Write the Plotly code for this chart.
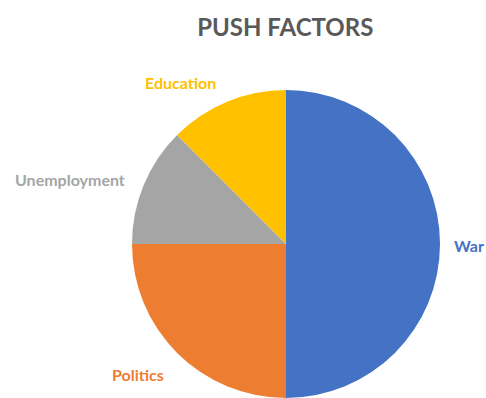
import plotly.graph_objects as go

# Push factors and their shares
factors = ["War", "Politics", "Unemployment", "Education"]
shares = [50, 25, 12.5, 12.5]
colors = ["#4472C4", "#ED7D31", "#A5A5A5", "#FFC000"]

# Label anchor points (paper coordinates)
label_x = [0.965, 0.284, 0.144, 0.372]
label_y = [0.382, 0.060, 0.548, 0.792]

W, H = 486, 398

fig = go.Figure(
    go.Pie(
        labels=factors,
        values=shares,
        marker=dict(colors=colors, line=dict(width=0)),
        sort=False,
        direction="clockwise",
        rotation=0,
        textinfo="none",
        hole=0,
        domain=dict(x=[132 / W, 440 / W], y=[0, 1 - 90 / H]),
        showlegend=False,
    )
)

for name, col, x, y in zip(factors, colors, label_x, label_y):
    fig.add_annotation(
        x=x, y=y, xref="paper", yref="paper",
        text=f"<b>{name}</b>", showarrow=False,
        font=dict(family="Lato", size=16, color=col),
        xanchor="center", yanchor="middle",
    )

fig.update_layout(
    width=W, height=H,
    margin=dict(l=0, r=0, t=0, b=0),
    paper_bgcolor="white",
    plot_bgcolor="white",
    title=dict(
        text="<b>PUSH FACTORS</b>",
        x=0.587, xanchor="center", y=1 - 28 / H, yanchor="middle",
        font=dict(family="Lato", size=24, color="#595959"),
    ),
)

fig.write_html("out.html")
